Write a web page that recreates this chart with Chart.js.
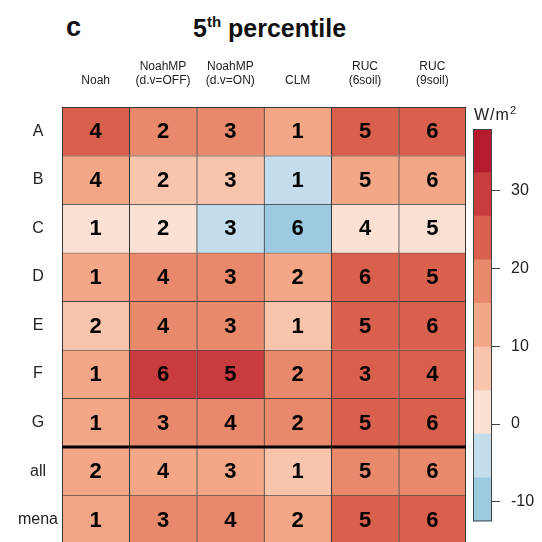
<!DOCTYPE html>
<html>
<head>
<meta charset="utf-8">
<script src="https://cdn.jsdelivr.net/npm/chart.js@4.4.1/dist/chart.umd.min.js"></script>
<style>
  html, body { margin: 0; padding: 0; background: #fff; overflow: hidden; }
  #wrap { position: relative; width: 542px; height: 542px; overflow: hidden;
          font-family: "Liberation Sans", Arial, Helvetica, sans-serif; color: #111; }
  #heat { position: absolute; left: 0; top: 0; }
  #scale { position: absolute; left: 465px; top: 100px; }
  .panel { position: absolute; left: 66px; top: 14px; font-size: 27px; font-weight: bold; line-height: 27px; }
  .title { position: absolute; left: 193px; top: 16px; font-size: 25px; font-weight: bold; line-height: 25px; white-space: nowrap; }
  .title sup { font-size: 15px; vertical-align: 10px; line-height: 0; }
  .unit { position: absolute; left: 474px; top: 107px; font-size: 16px; line-height: 16px; letter-spacing: 1px; color: #222; }
  .unit sup { font-size: 11px; vertical-align: 6px; line-height: 0; letter-spacing: 0; }
</style>
</head>
<body>
<div id="wrap">
  <div class="panel">c</div>
  <div class="title">5<sup>th</sup> percentile</div>
  <canvas id="heat" width="542" height="560"></canvas>
  <canvas id="scale" width="77" height="442"></canvas>
  <div class="unit">W/m<sup>2</sup></div>
</div>
<script>
// Land-surface schemes (columns) and regions (rows)
const schemes = [['Noah'], ['NoahMP', '(d.v=OFF)'], ['NoahMP', '(d.v=ON)'], ['CLM'], ['RUC', '(6soil)'], ['RUC', '(9soil)']];
const regions = ['A', 'B', 'C', 'D', 'E', 'F', 'G', 'all', 'mena'];

// Bias of the 5th percentile (W/m2), per region, in scheme order
const biasA    = [22.5, 17.5, 19.5, 14.5, 23.5, 24.5];
const biasB    = [11.5,  6.5,  8.0, -3.0, 12.5, 13.5];
const biasC    = [ 0.5,  1.5, -2.5, -8.5,  3.0,  3.8];
const biasD    = [12.0, 19.0, 17.0, 14.0, 24.0, 22.5];
const biasE    = [ 8.0, 19.0, 17.5,  6.0, 22.5, 24.0];
const biasF    = [12.5, 30.0, 28.5, 18.0, 22.0, 23.5];
const biasG    = [13.0, 17.5, 19.0, 16.0, 22.5, 24.0];
const biasAll  = [11.5, 14.5, 13.0,  7.5, 17.0, 18.0];
const biasMena = [12.0, 17.0, 18.5, 14.0, 22.0, 23.0];

// Rank of each scheme within a region (1 = smallest absolute bias)
const rankA    = [4, 2, 3, 1, 5, 6];
const rankB    = [4, 2, 3, 1, 5, 6];
const rankC    = [1, 2, 3, 6, 4, 5];
const rankD    = [1, 4, 3, 2, 6, 5];
const rankE    = [2, 4, 3, 1, 5, 6];
const rankF    = [1, 6, 5, 2, 3, 4];
const rankG    = [1, 3, 4, 2, 5, 6];
const rankAll  = [2, 4, 3, 1, 5, 6];
const rankMena = [1, 3, 4, 2, 5, 6];

// Colour classes of the legend
const bandBreaks = [-12.5, -6.9, -1.3, 4.3, 9.9, 15.5, 21.1, 26.7, 32.3, 37.9];
const bandColors = ['#9ccae1', '#c3ddec', '#fbe1d4', '#f8c4ab', '#f3a786', '#e8896c', '#d9604c', '#c83b3e', '#b51a2e'];
const legendTicks = [-10, 0, 10, 20, 30];

const biasRows = [biasA, biasB, biasC, biasD, biasE, biasF, biasG, biasAll, biasMena];
const rankRows = [rankA, rankB, rankC, rankD, rankE, rankF, rankG, rankAll, rankMena];

function colorFor(v) {
  for (let k = 0; k < bandColors.length; k++) {
    if (v < bandBreaks[k + 1]) return bandColors[k];
  }
  return bandColors[bandColors.length - 1];
}

const FONT = '"Liberation Sans", Arial, Helvetica, sans-serif';
const LINE = '#363636';

// Outline of the grid, separator above the summary rows and rank numbers
const gridDecor = {
  id: 'gridDecor',
  afterDatasetsDraw(chart) {
    const { ctx, chartArea: a, scales: { y } } = chart;
    ctx.save();
    ctx.strokeStyle = LINE;
    ctx.lineWidth = 1;
    ctx.strokeRect(a.left + 0.5, a.top + 0.5, a.right - a.left - 1, a.bottom - a.top - 1);
    const ySep = y.getPixelForValue(7);
    ctx.strokeStyle = '#000';
    ctx.lineWidth = 3;
    ctx.beginPath();
    ctx.moveTo(a.left, ySep);
    ctx.lineTo(a.right, ySep);
    ctx.stroke();
    ctx.fillStyle = '#000';
    ctx.font = 'bold 22px ' + FONT;
    ctx.textAlign = 'center';
    ctx.textBaseline = 'middle';
    chart.data.datasets.forEach((ds, i) => {
      chart.getDatasetMeta(i).data.forEach((el, j) => {
        const p = el.getCenterPoint();
        ctx.fillText(String(rankRows[i][j]), p.x, p.y + 1);
      });
    });
    ctx.restore();
  }
};

new Chart(document.getElementById('heat'), {
  type: 'bar',
  data: {
    labels: schemes,
    datasets: regions.map((r, i) => ({
      label: r,
      data: schemes.map(() => 1),
      backgroundColor: biasRows[i].map(colorFor),
      borderColor: LINE,
      borderWidth: { top: 1, left: 1, right: 0, bottom: 0 },
      borderSkipped: false,
      barPercentage: 1,
      categoryPercentage: 1
    }))
  },
  options: {
    responsive: false,
    animation: false,
    layout: { padding: { left: 0, top: 0, right: 76, bottom: 16 } },
    plugins: { legend: { display: false }, tooltip: { enabled: false } },
    scales: {
      x: {
        position: 'top',
        stacked: true,
        grid: { display: false },
        border: { display: false },
        ticks: { font: { family: FONT, size: 12 }, color: '#222', padding: 11, maxRotation: 0, autoSkip: false },
        afterFit: s => { s.height = 107; }
      },
      y: {
        type: 'linear',
        stacked: true,
        reverse: true,
        min: 0,
        max: 9,
        grid: { display: false },
        border: { display: false },
        afterBuildTicks: s => { s.ticks = regions.map((_, i) => ({ value: i + 0.5 })); },
        ticks: {
          font: { family: FONT, size: 16 },
          color: '#222',
          crossAlign: 'center',
          padding: -4,
          callback: v => regions[Math.floor(v)]
        },
        afterFit: s => { s.width = 62; }
      }
    }
  },
  plugins: [gridDecor]
});

// Colour legend
const scaleBox = {
  id: 'scaleBox',
  afterDatasetsDraw(chart) {
    const { ctx, chartArea: a } = chart;
    ctx.save();
    ctx.strokeStyle = '#444';
    ctx.lineWidth = 1;
    ctx.strokeRect(a.left + 0.5, a.top + 0.5, a.right - a.left - 1, a.bottom - a.top - 1);
    ctx.restore();
  }
};

new Chart(document.getElementById('scale'), {
  type: 'bar',
  data: {
    labels: ['W/m2'],
    datasets: bandColors.map((c, k) => ({
      data: [[bandBreaks[k], bandBreaks[k + 1]]],
      backgroundColor: c,
      borderWidth: 0,
      barPercentage: 1,
      categoryPercentage: 1,
      grouped: false
    }))
  },
  options: {
    responsive: false,
    animation: false,
    layout: { padding: { left: 8, top: 29, right: 0, bottom: 19 } },
    plugins: { legend: { display: false }, tooltip: { enabled: false } },
    scales: {
      x: { display: false },
      y: {
        position: 'right',
        min: bandBreaks[0],
        max: bandBreaks[bandBreaks.length - 1],
        afterBuildTicks: s => { s.ticks = legendTicks.map(v => ({ value: v })); },
        grid: { display: true, drawOnChartArea: false, drawTicks: true, tickLength: 8, color: '#444' },
        border: { display: false },
        ticks: { font: { family: FONT, size: 16 }, color: '#222', padding: 11, callback: v => String(v) },
        afterFit: s => { s.width = 50; }
      }
    }
  },
  plugins: [scaleBox]
});
</script>
</body>
</html>
